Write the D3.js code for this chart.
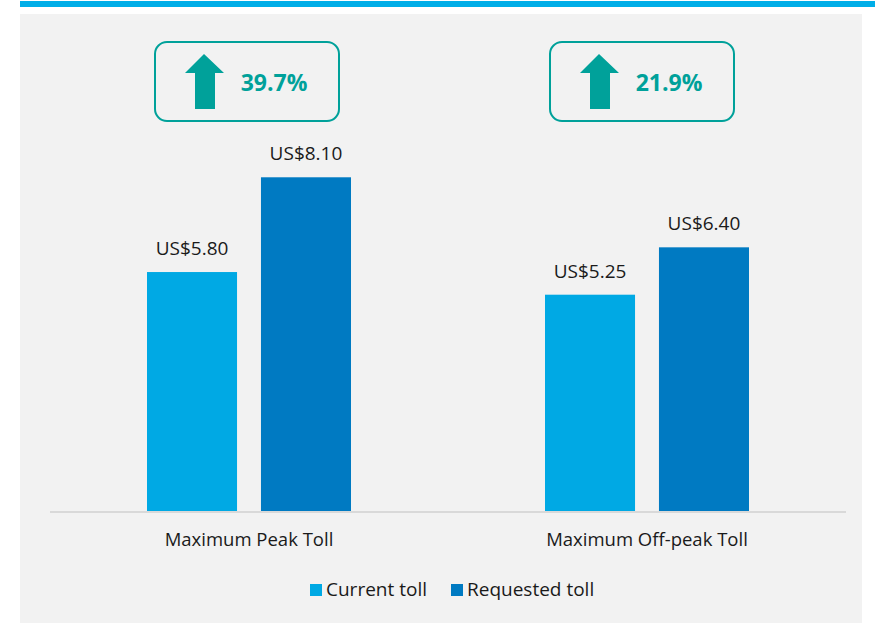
<!DOCTYPE html>
<html>
<head>
<meta charset="utf-8">
<script src="https://cdn.jsdelivr.net/npm/d3@7"></script>
<style>
  body { margin: 0; background: #fff; }
  svg { display: block; font-family: "Open Sans", "Noto Sans", sans-serif; }
</style>
</head>
<body>
<svg id="chart"></svg>
<script>
// data
const categories = ["Maximum Peak Toll", "Maximum Off-peak Toll"];
const seriesNames = ["Current toll", "Requested toll"];
const currentToll = [5.80, 5.25];
const requestedToll = [8.10, 6.40];

const width = 875, height = 623;
const colors = ["#00a9e4", "#007ac2"];
const teal = "#00a19a";

const svg = d3.select("#chart")
    .attr("width", width)
    .attr("height", height);

// panel + top rule
svg.append("rect")
    .attr("x", 20).attr("y", 14)
    .attr("width", 842).attr("height", height - 14)
    .attr("fill", "#f2f2f2");
svg.append("rect")
    .attr("x", 20).attr("y", 1)
    .attr("width", width - 20).attr("height", 6)
    .attr("fill", "#00aee8");

const x0 = d3.scaleBand()
    .domain(categories)
    .range([50, 846]);

const x1 = d3.scaleBand()
    .domain(seriesNames)
    .range([x0.bandwidth() / 2 - 102, x0.bandwidth() / 2 + 102])
    .paddingInner(0.21);

const y = d3.scaleLinear()
    .domain([0, 10])
    .range([511, 99]);

const rows = categories.map((c, i) => ({
    name: c,
    values: [currentToll[i], requestedToll[i]]
}));

const groups = svg.append("g")
    .selectAll("g")
    .data(rows)
    .join("g")
    .attr("transform", d => `translate(${x0(d.name)},0)`);

groups.selectAll("rect")
    .data(d => d.values.map((v, j) => ({ key: seriesNames[j], value: v, j })))
    .join("rect")
    .attr("x", d => x1(d.key))
    .attr("width", x1.bandwidth())
    .attr("y", d => y(d.value))
    .attr("height", d => y(0) - y(d.value))
    .attr("fill", d => colors[d.j]);

groups.selectAll("text.val")
    .data(d => d.values.map((v, j) => ({ key: seriesNames[j], value: v })))
    .join("text")
    .attr("class", "val")
    .attr("x", d => x1(d.key) + x1.bandwidth() / 2)
    .attr("y", d => y(d.value) - 17)
    .attr("text-anchor", "middle")
    .attr("font-size", 19)
    .attr("fill", "#1a1a1a")
    .text(d => "US$" + d.value.toFixed(2));

// baseline
svg.append("line")
    .attr("x1", 50).attr("x2", 846)
    .attr("y1", y(0) + 1).attr("y2", y(0) + 1)
    .attr("stroke", "#d9d9d9").attr("stroke-width", 2);

// category labels
svg.append("g")
    .selectAll("text")
    .data(categories)
    .join("text")
    .attr("x", d => x0(d) + x0.bandwidth() / 2)
    .attr("y", 546)
    .attr("text-anchor", "middle")
    .attr("font-size", 18.5)
    .attr("fill", "#1a1a1a")
    .text(d => d);

// change callouts
const boxShift = [-2, -5];
const boxes = svg.append("g")
    .selectAll("g")
    .data(rows)
    .join("g")
    .attr("transform", (d, i) => `translate(${x0(d.name) + x0.bandwidth() / 2 + boxShift[i]},0)`);

boxes.append("rect")
    .attr("x", -92).attr("y", 42)
    .attr("width", 184).attr("height", 79)
    .attr("rx", 12)
    .attr("fill", "none")
    .attr("stroke", teal)
    .attr("stroke-width", 2);

boxes.append("path")
    .attr("d", "M-62,73 L-43,54 L-23,73 L-32,73 L-32,109 L-52,109 L-52,73 Z")
    .attr("fill", teal);

boxes.append("text")
    .attr("x", 27)
    .attr("y", 91)
    .attr("text-anchor", "middle")
    .attr("font-size", 23)
    .attr("font-weight", "bold")
    .attr("fill", teal)
    .text(d => ((d.values[1] / d.values[0] - 1) * 100).toFixed(1) + "%");

// legend
const legend = svg.append("g")
    .selectAll("g")
    .data(seriesNames)
    .join("g")
    .attr("transform", (d, i) => `translate(${[310, 451][i]},584)`);

legend.append("rect")
    .attr("width", 12).attr("height", 12)
    .attr("fill", (d, i) => colors[i]);

legend.append("text")
    .attr("x", 16).attr("y", 12)
    .attr("font-size", 19)
    .attr("fill", "#1a1a1a")
    .text(d => d);
</script>
</body>
</html>
